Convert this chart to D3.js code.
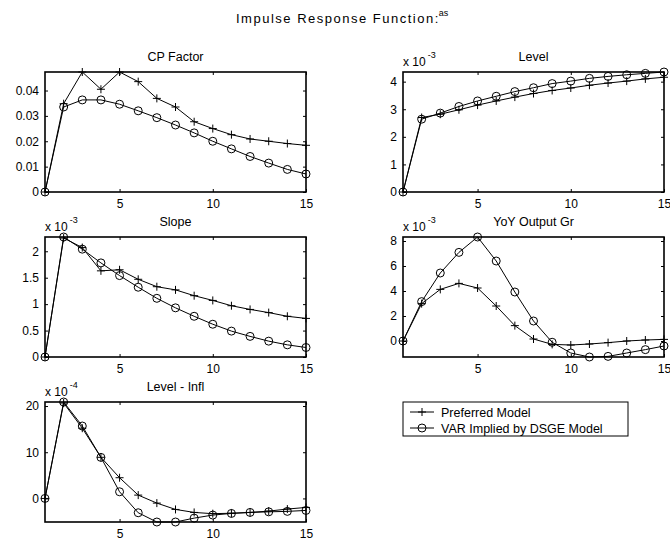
<!DOCTYPE html>
<html>
<head>
<meta charset="utf-8">
<script src="https://cdn.jsdelivr.net/npm/d3@7"></script>
<style>
  body { margin: 0; background: #fff; }
  svg { font-family: "Liberation Sans", Arial, sans-serif; }
</style>
</head>
<body>
<div id="chart"></div>
<script>
// horizons and panel names
const horizons = [1, 2, 3, 4, 5, 6, 7, 8, 9, 10, 11, 12, 13, 14, 15];
const panelTitles = ["CP Factor", "Level", "Slope", "YoY Output Gr", "Level - Infl"];
const exponents = [null, -3, -3, -3, -4];
const xTicks = [5, 10, 15];
const yTicks = [
  [0, 0.01, 0.02, 0.03, 0.04],
  [0, 1, 2, 3, 4],
  [0, 0.5, 1, 1.5, 2],
  [0, 2, 4, 6, 8],
  [0, 10, 20]
];
const seriesNames = ["Preferred Model", "VAR Implied by DSGE Model"];

// values in the units shown on each panel's axis
const cpPreferred = [0, 0.0348, 0.0473, 0.0405, 0.0473, 0.0435, 0.0369, 0.0335, 0.0277, 0.025, 0.0226, 0.0209, 0.02, 0.0191, 0.0184];
const cpVar = [0, 0.0335, 0.0363, 0.0363, 0.0346, 0.032, 0.0293, 0.0264, 0.0233, 0.02, 0.017, 0.014, 0.0114, 0.0089, 0.0071];
const levelPreferred = [0, 2.7, 2.82, 2.98, 3.15, 3.3, 3.44, 3.57, 3.68, 3.77, 3.87, 3.95, 4.02, 4.1, 4.16];
const levelVar = [0, 2.64, 2.86, 3.1, 3.3, 3.47, 3.64, 3.78, 3.93, 4.02, 4.12, 4.19, 4.25, 4.3, 4.35];
const slopePreferred = [0, 2.25, 2.07, 1.63, 1.65, 1.47, 1.33, 1.27, 1.16, 1.07, 0.97, 0.9, 0.84, 0.77, 0.73];
const slopeVar = [0, 2.27, 2.04, 1.78, 1.54, 1.32, 1.11, 0.93, 0.77, 0.62, 0.49, 0.39, 0.3, 0.23, 0.18];
const yoyPreferred = [0, 2.99, 4.13, 4.61, 4.24, 2.8, 1.23, 0.16, -0.27, -0.32, -0.24, -0.13, 0, 0.08, 0.13];
const yoyVar = [0, 3.15, 5.44, 7.09, 8.32, 6.4, 3.92, 1.6, -0.1, -0.96, -1.28, -1.23, -0.96, -0.69, -0.4];
const inflPreferred = [0, 20.65, 15.2, 8.9, 4.48, 0.72, -1.01, -2.38, -3.03, -3.3, -3.2, -3.03, -2.74, -2.3, -1.95];
const inflVar = [0, 20.87, 15.67, 8.88, 1.44, -3.1, -5.1, -5.1, -4.26, -3.6, -3.25, -3.03, -2.9, -2.8, -2.6];

const panelSeries = [
  [cpPreferred, cpVar],
  [levelPreferred, levelVar],
  [slopePreferred, slopeVar],
  [yoyPreferred, yoyVar],
  [inflPreferred, inflVar]
];

const width = 670, height = 544;
const pw = 261, ph = 120;
const origins = [[45, 72], [403, 72], [45, 237], [403, 237], [45, 402]];

const svg = d3.select("#chart").append("svg")
  .attr("width", width)
  .attr("height", height);

// title
const title = svg.append("text")
  .attr("x", 236)
  .attr("y", 23)
  .attr("font-size", 13)
  .attr("letter-spacing", 1.5)
  .attr("fill", "#000");
title.append("tspan").text("Impulse Response Function:");
title.append("tspan").attr("font-size", 9).attr("dy", -7).attr("dx", -1).attr("letter-spacing", 0).text("as");

const plus = "M-4,0H4M0,-4V4";

function drawMarker(sel, kind) {
  if (kind === 0) {
    sel.append("path").attr("d", plus).attr("stroke", "#000").attr("stroke-width", 1).attr("fill", "none");
  } else {
    sel.append("circle").attr("r", 4).attr("stroke", "#000").attr("stroke-width", 1).attr("fill", "none");
  }
}

panelSeries.forEach((series, p) => {
  const [ox, oy] = origins[p];
  const g = svg.append("g").attr("transform", `translate(${ox},${oy})`);

  const x = d3.scaleLinear().domain([1, 15]).range([0, pw]);
  const y = d3.scaleLinear().domain(d3.extent(series.flat())).range([ph, 0]);

  // axes with inward ticks on all sides
  g.append("g")
    .attr("transform", `translate(0,${ph})`)
    .call(d3.axisBottom(x).tickValues(xTicks).tickSize(-3).tickPadding(7).tickFormat(d3.format("d")))
    .call(a => a.select(".domain").remove())
    .call(a => a.selectAll("text").attr("font-size", 12).attr("font-family", null).attr("fill", "#000"));
  g.append("g")
    .call(d3.axisTop(x).tickValues(xTicks).tickSize(-3).tickFormat(""))
    .call(a => a.select(".domain").remove());
  g.append("g")
    .call(d3.axisLeft(y).tickValues(yTicks[p]).tickSize(-3).tickPadding(6).tickFormat(d => String(d)))
    .call(a => a.select(".domain").remove())
    .call(a => a.selectAll("text").attr("font-size", 12).attr("font-family", null).attr("fill", "#000"));
  g.append("g")
    .attr("transform", `translate(${pw},0)`)
    .call(d3.axisRight(y).tickValues(yTicks[p]).tickSize(-3).tickFormat(""))
    .call(a => a.select(".domain").remove());

  g.append("rect")
    .attr("width", pw)
    .attr("height", ph)
    .attr("fill", "none")
    .attr("stroke", "#000")
    .attr("stroke-width", 1.6);

  g.append("text")
    .attr("x", pw / 2)
    .attr("y", -11)
    .attr("text-anchor", "middle")
    .attr("font-size", 12.5)
    .text(panelTitles[p]);

  if (exponents[p] !== null) {
    const ex = g.append("text")
      .attr("x", 0)
      .attr("y", -6)
      .attr("font-size", 12);
    ex.append("tspan").text("x 10");
    ex.append("tspan").attr("font-size", 9).attr("dy", -8).attr("dx", 2).text(exponents[p]);
  }

  const line = d3.line().x((d, i) => x(horizons[i])).y(d => y(d));

  series.forEach((vals, s) => {
    g.append("path")
      .attr("d", line(vals))
      .attr("fill", "none")
      .attr("stroke", "#000")
      .attr("stroke-width", 1);
    g.append("g").selectAll("g")
      .data(vals)
      .join("g")
      .attr("transform", (d, i) => `translate(${x(horizons[i])},${y(d)})`)
      .each(function () { drawMarker(d3.select(this), s); });
  });
});

// legend
const lg = svg.append("g").attr("transform", "translate(403,402)");
lg.append("rect")
  .attr("width", 225)
  .attr("height", 34)
  .attr("fill", "#fff")
  .attr("stroke", "#000")
  .attr("stroke-width", 1);
seriesNames.forEach((name, s) => {
  const row = lg.append("g").attr("transform", `translate(0,${10 + s * 16})`);
  row.append("line").attr("x1", 7).attr("x2", 31).attr("stroke", "#000");
  const m = row.append("g").attr("transform", "translate(19,0)");
  drawMarker(m, s);
  row.append("text")
    .attr("x", 38)
    .attr("y", 4.5)
    .attr("font-size", 12.5)
    .text(name);
});
</script>
</body>
</html>
